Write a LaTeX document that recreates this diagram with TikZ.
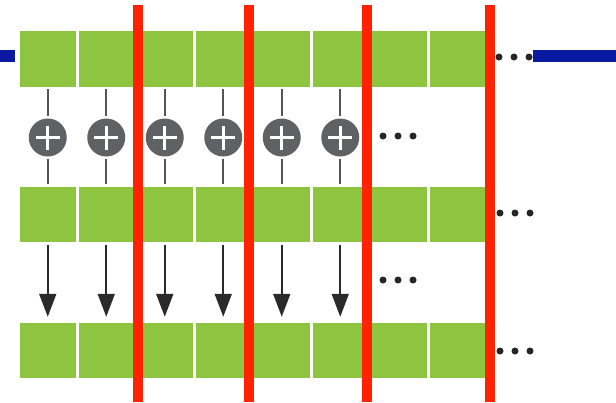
\documentclass[tikz,border=0pt]{standalone}
\usetikzlibrary{arrows.meta}
\definecolor{cellgreen}{HTML}{8DC540}
\definecolor{divred}{HTML}{FF2200}
\definecolor{busblue}{HTML}{0A1AA0}
\definecolor{plusgray}{HTML}{606164}
\definecolor{linegray}{HTML}{555555}
\definecolor{arrowgray}{HTML}{2A2A2A}
\begin{document}
\begin{tikzpicture}[x=1pt,y=-1pt,
  cell/.style={rectangle,fill=cellgreen,minimum width=55.5pt,minimum height=55.5pt,inner sep=0pt,outer sep=0pt},
  adder/.style={circle,fill=plusgray,minimum size=38pt,inner sep=0pt,outer sep=0pt,
    path picture={\draw[white,line width=2.6pt]
      ([xshift=-12pt]path picture bounding box.center) -- ([xshift=12pt]path picture bounding box.center)
      ([yshift=-12pt]path picture bounding box.center) -- ([yshift=12pt]path picture bounding box.center);}},
  wire/.style={draw=linegray,line width=1.8pt},
  flow/.style={draw=arrowgray,line width=2pt,-{Triangle[width=17pt,length=23pt]}},
  divider/.style={draw=divred,line width=10pt},
  bus/.style={draw=busblue,line width=12pt},
  dotmark/.style={circle,fill=black!85,minimum size=7pt,inner sep=0pt,outer sep=0pt}
]
\useasboundingbox (0,0) rectangle (616,402);
% cells
\foreach \r/\y in {1/59,2/214.5,3/350.5}
  \foreach \k in {1,...,8}
    \node[cell] (r\r c\k) at ({47.75+58.5*(\k-1)},\y) {};
% adders, wires, arrows
\foreach \k in {1,...,6}{
  \node[adder] (a\k) at ({47.75+58.5*(\k-1)},137.5) {};
  \draw[wire,shorten <=2pt,shorten >=3pt] (r1c\k) -- (a\k);
  \draw[wire,shorten <=2pt,shorten >=3pt] (a\k) -- (r2c\k);
  \draw[flow,shorten <=3pt,shorten >=6pt] (r2c\k) -- (r3c\k);
}
% ellipsis dots
\foreach \g/\x/\y in {e1/499/57,e2/383/136,e3/500/213,e4/383/280,e5/500/351}
  \foreach \i in {0,1,2}
    \node[dotmark] (\g d\i) at ({\x+15*\i},\y) {};
% buses
\coordinate (busL0) at (0,56);
\coordinate (busL1) at (15,56);
\coordinate (busR0) at (533,56);
\coordinate (busR1) at (616,56);
\draw[bus] (busL0) -- (busL1);
\draw[bus] (busR0) -- (busR1);
% dividers
\foreach \n/\x in {1/138,2/249,3/367,4/490}{
  \coordinate (dt\n) at (\x,5);
  \coordinate (db\n) at (\x,402);
  \draw[divider] (dt\n) -- (db\n);
}
\end{tikzpicture}
\end{document}
